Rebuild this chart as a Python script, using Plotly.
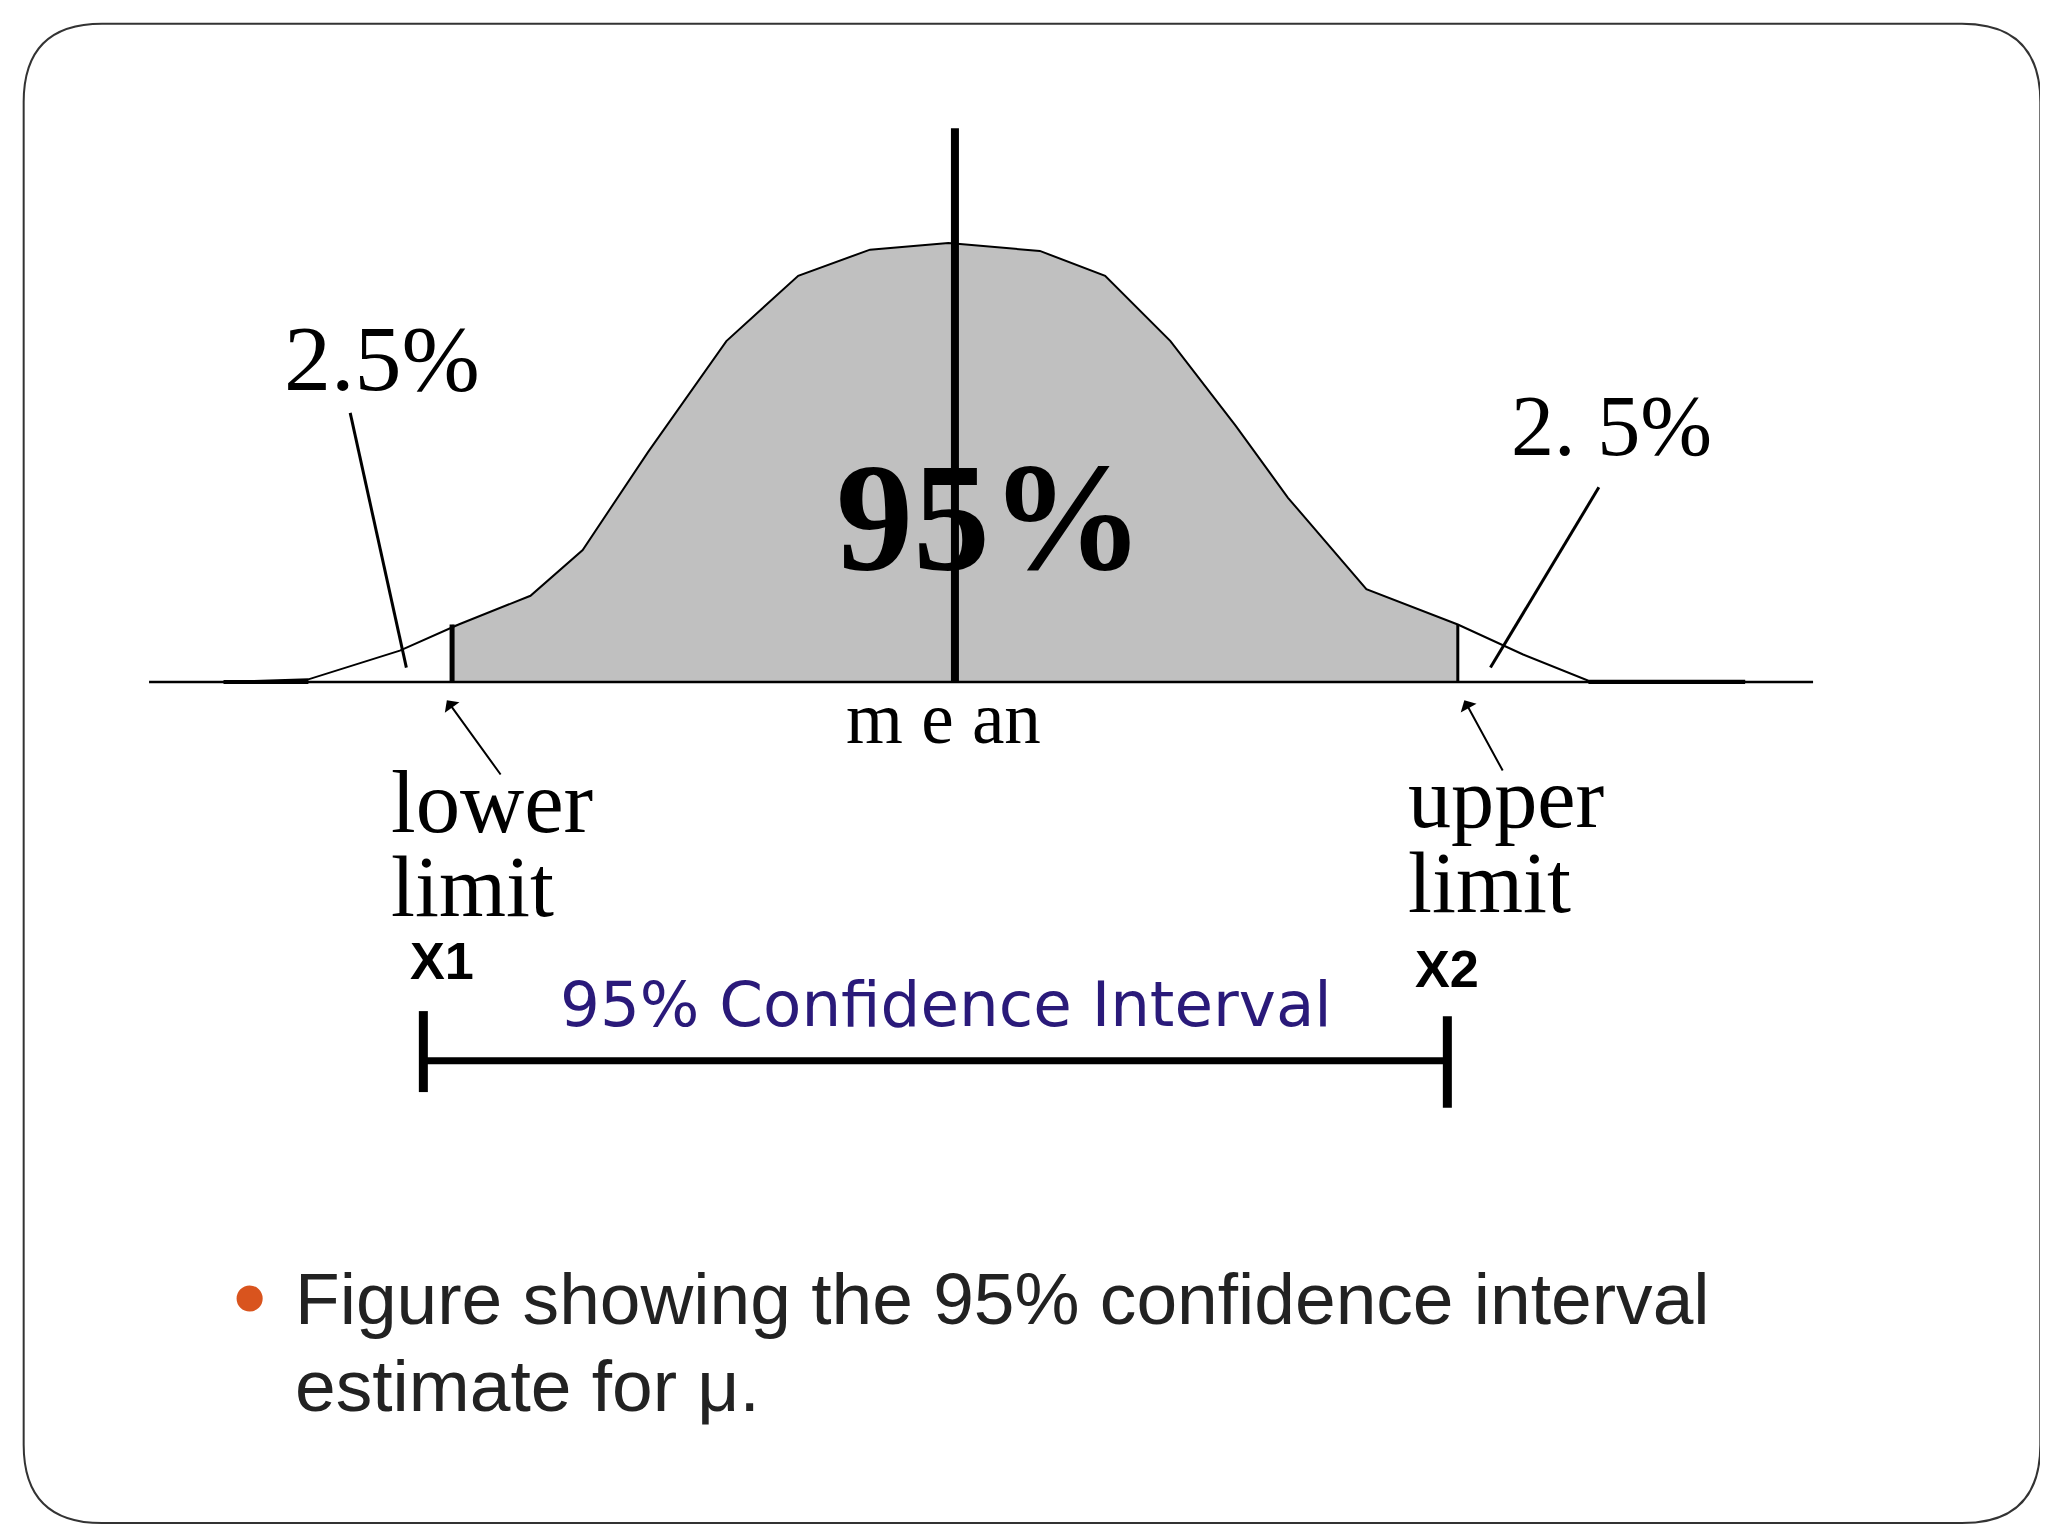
import plotly.graph_objects as go

# curve (display coords, y down)
curve_x = [165, 230, 300, 345, 400, 440, 490, 550, 605, 660, 720, 790, 840, 890, 940, 980, 1040, 1110, 1160, 1210, 1330]
curve_y = [516, 514, 492, 472, 450, 415, 340, 255, 205, 185, 180, 186, 205, 255, 320, 375, 445, 472, 495, 515, 515]
lower_x, upper_x, mean_x, base_y = 340, 1110, 725, 516

S = 2048 / 1568
fig = go.Figure()

fx = [lower_x] + [x for x in curve_x if lower_x < x < upper_x] + [upper_x]
fy = [472] + [y for x, y in zip(curve_x, curve_y) if lower_x < x < upper_x] + [472]
fig.add_trace(go.Scatter(x=[lower_x] + fx + [upper_x], y=[base_y] + fy + [base_y], fill="toself",
                         fillcolor="#c0c0c0", line=dict(width=0), mode="lines", hoverinfo="skip"))
fig.add_trace(go.Scatter(x=curve_x, y=curve_y, mode="lines", line=dict(color="black", width=2)))
segs = [
    ([108, 1382], [base_y, base_y], 2.5),
    ([165, 230], [516, 516], 4), ([1210, 1330], [516, 516], 4),
    ([mean_x, mean_x], [92, base_y], 8),
    ([lower_x, lower_x], [472, base_y], 5),
    ([upper_x, upper_x], [472, base_y], 3),
    ([262, 305], [310, 505], 3),
    ([1218, 1135], [367, 505], 3),
    ([318, 1102], [806, 806], 7),
    ([318, 318], [768, 830], 9),
    ([1102, 1102], [772, 842], 9),
]
for xs, ys, w in segs:
    fig.add_trace(go.Scatter(x=xs, y=ys, mode="lines", line=dict(color="black", width=w), hoverinfo="skip"))

serif = "Liberation Serif"
def txt(x, y, t, size, font=serif, color="black", anchor="center", bold=False):
    if bold:
        t = "<b>" + t + "</b>"
    fig.add_annotation(x=x, y=y, text=t, showarrow=False, xanchor=anchor, yanchor="middle",
                       font=dict(family=font, size=size * S, color=color))

txt(286, 268, "2.5%", 72)
txt(1228, 320, "2. 5%", 66)
txt(752, 390, "95%", 118, bold=True)
txt(716, 544, "m e an", 56)
txt(292, 608, "lower", 68, anchor="left")
txt(292, 673, "limit", 66, anchor="left")
txt(1070, 605, "upper", 66, anchor="left")
txt(1070, 670, "limit", 66, anchor="left")
txt(306, 730, "X1", 40, font="Liberation Sans", anchor="left", bold=True)
txt(1076, 736, "X2", 40, font="Liberation Sans", anchor="left", bold=True)
txt(718, 763, "95% Confidence Interval", 48, font="DejaVu Sans", color="#2a1a7a")
txt(218, 988, "Figure showing the 95% confidence interval", 56, font="Liberation Sans", color="#222", anchor="left")
txt(218, 1055, "estimate for μ.", 56, font="Liberation Sans", color="#222", anchor="left")

for ax, ay, hx, hy in [(378, 588, 336, 530), (1145, 585, 1115, 530)]:
    fig.add_annotation(x=hx, y=hy, ax=ax, ay=ay, xref="x", yref="y", axref="x", ayref="y",
                       text="", showarrow=True, arrowhead=1, arrowsize=1.5, arrowwidth=2, arrowcolor="black")

fig.add_shape(type="circle", x0=175, x1=195, y0=978, y1=998, fillcolor="#d9541e", line=dict(width=0))
r = 60
x0, y0, x1, y1 = 12, 12, 1556, 1160
fig.add_shape(type="path", line=dict(color="#333", width=2),
              path=f"M {x0+r},{y0} L {x1-r},{y0} Q {x1},{y0} {x1},{y0+r} L {x1},{y1-r} Q {x1},{y1} {x1-r},{y1} "
                   f"L {x0+r},{y1} Q {x0},{y1} {x0},{y1-r} L {x0},{y0+r} Q {x0},{y0} {x0+r},{y0} Z")

fig.update_layout(width=2048, height=1536, margin=dict(l=0, r=0, t=0, b=0), showlegend=False,
                  plot_bgcolor="white", paper_bgcolor="white",
                  xaxis=dict(range=[0, 1568], visible=False),
                  yaxis=dict(range=[1176, 0], visible=False))
fig.write_html("out.html")
